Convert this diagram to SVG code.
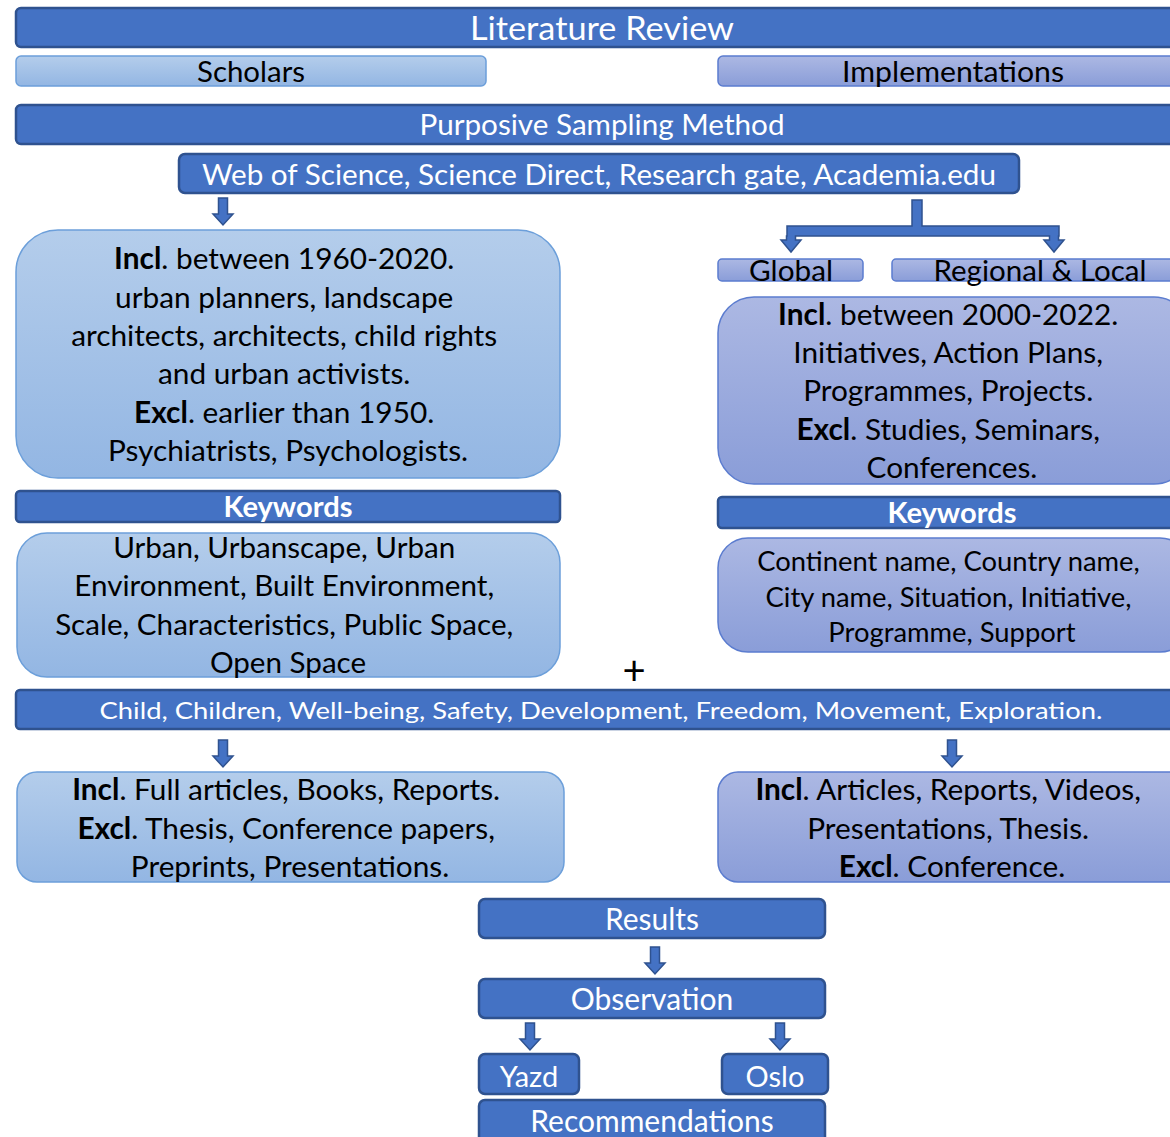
<svg xmlns="http://www.w3.org/2000/svg" width="1170" height="1137" viewBox="0 0 1170 1137">
<defs>
<linearGradient id="gBlue" x1="0" y1="0" x2="0" y2="1"><stop offset="0" stop-color="#B4CDEB"/><stop offset="1" stop-color="#93B6E3"/></linearGradient>
<linearGradient id="gLav" x1="0" y1="0" x2="0" y2="1"><stop offset="0" stop-color="#ACB8E3"/><stop offset="1" stop-color="#8A9DD8"/></linearGradient>
<path id="dArrow" d="M-4.5,0 H4.5 V16 H10 L0,27 L-10,16 H-4.5 Z"/>
</defs>
<style>
.dark{fill:#4472C4;stroke:#2F528F;stroke-width:2.5}
.blue{fill:url(#gBlue);stroke:#6C9FDA;stroke-width:1.5}
.lav{fill:url(#gLav);stroke:#5B7CCF;stroke-width:1.5}
.arr{fill:#4472C4;stroke:#2F528F;stroke-width:1.5}
text{font-family:Lato,"Open Sans","Liberation Sans",sans-serif;text-anchor:middle}
.w{fill:#FFFFFF}
.k{fill:#000000}
.b{font-weight:bold}
</style>
<rect width="1170" height="1137" fill="#FFFFFF"/>

<g id="literature-review"><rect class="dark" x="16" y="8" width="1172" height="39" rx="5"/><text class="w" x="602" y="40" font-size="32" textLength="264" lengthAdjust="spacingAndGlyphs">Literature Review</text></g>
<g id="scholars"><rect class="blue" x="16" y="56" width="470" height="30" rx="5"/><text class="k" x="251" y="82" font-size="28" textLength="108" lengthAdjust="spacingAndGlyphs">Scholars</text></g>
<g id="implementations"><rect class="lav" x="718" y="56" width="472" height="30" rx="5"/><text class="k" x="953" y="82" font-size="28" textLength="222" lengthAdjust="spacingAndGlyphs">Implementations</text></g>
<g id="purposive"><rect class="dark" x="16" y="105" width="1172" height="39" rx="5"/><text class="w" x="602" y="135" font-size="28" textLength="365" lengthAdjust="spacingAndGlyphs">Purposive Sampling Method</text></g>
<g id="databases"><rect class="dark" x="179" y="154" width="840" height="39" rx="6"/><text class="w" x="599" y="185" font-size="28" textLength="794" lengthAdjust="spacingAndGlyphs">Web of Science, Science Direct, Research gate, Academia.edu</text></g>

<g id="global"><rect class="lav" x="718" y="259" width="145" height="22" rx="4"/><text class="k" x="791" y="281" font-size="28" textLength="84" lengthAdjust="spacingAndGlyphs">Global</text></g>
<g id="regional"><rect class="lav" x="892" y="259" width="298" height="22" rx="4"/><text class="k" x="1040" y="281" font-size="28" textLength="213" lengthAdjust="spacingAndGlyphs">Regional &amp; Local</text></g>

<g id="scholars-criteria"><rect class="blue" x="16" y="230" width="544" height="248" rx="42"/>
<text class="k" font-size="29.8">
<tspan x="288" y="269"><tspan class="b">Incl</tspan>. between 1960-2020.</tspan>
<tspan x="288" y="308">urban planners, landscape</tspan>
<tspan x="288" y="346">architects, architects, child rights</tspan>
<tspan x="288" y="384">and urban activists.</tspan>
<tspan x="288" y="423"><tspan class="b">Excl</tspan>. earlier than 1950.</tspan>
<tspan x="288" y="461">Psychiatrists, Psychologists.</tspan>
</text></g>

<g id="impl-criteria"><rect class="lav" x="718" y="297" width="472" height="187" rx="36"/>
<text class="k" font-size="29.8">
<tspan x="952" y="325"><tspan class="b">Incl</tspan>. between 2000-2022.</tspan>
<tspan x="952" y="363">Initiatives, Action Plans,</tspan>
<tspan x="952" y="401">Programmes, Projects.</tspan>
<tspan x="952" y="440"><tspan class="b">Excl</tspan>. Studies, Seminars,</tspan>
<tspan x="952" y="478">Conferences.</tspan>
</text></g>

<g id="keywords-left"><rect class="dark" x="16" y="491" width="544" height="31" rx="4"/><text class="w b" x="288" y="517" font-size="28" textLength="129" lengthAdjust="spacingAndGlyphs">Keywords</text></g>
<g id="keywords-right"><rect class="dark" x="718" y="497" width="472" height="31" rx="4"/><text class="w b" x="952" y="523" font-size="28" textLength="129" lengthAdjust="spacingAndGlyphs">Keywords</text></g>

<g id="keywords-left-list"><rect class="blue" x="17" y="533" width="543" height="144" rx="30"/>
<text class="k" font-size="29.6">
<tspan x="288" y="558">Urban, Urbanscape, Urban</tspan>
<tspan x="288" y="596">Environment, Built Environment,</tspan>
<tspan x="288" y="635">Scale, Characteristics, Public Space,</tspan>
<tspan x="288" y="673">Open Space</tspan>
</text></g>

<g id="keywords-right-list"><rect class="lav" x="718" y="538" width="472" height="114" rx="30"/>
<text class="k" font-size="27.4">
<tspan x="952" y="571">Continent name, Country name,</tspan>
<tspan x="952" y="607">City name, Situation, Initiative,</tspan>
<tspan x="952" y="642">Programme, Support</tspan>
</text></g>

<g id="plus"><text class="k" x="634" y="685" font-size="40" font-family="DejaVu Sans">+</text></g>

<g id="common-keywords"><rect class="dark" x="16" y="690" width="1172" height="39" rx="4"/><text class="w" x="601" y="719" font-size="24" textLength="1003" lengthAdjust="spacingAndGlyphs">Child, Children, Well-being, Safety, Development, Freedom, Movement, Exploration.</text></g>

<g id="scholars-types"><rect class="blue" x="17" y="772" width="547" height="110" rx="20"/>
<text class="k" font-size="29.8">
<tspan x="290" y="800"><tspan class="b">Incl</tspan>. Full articles, Books, Reports.</tspan>
<tspan x="290" y="839"><tspan class="b">Excl</tspan>. Thesis, Conference papers,</tspan>
<tspan x="290" y="877">Preprints, Presentations.</tspan>
</text></g>

<g id="impl-types"><rect class="lav" x="718" y="772" width="472" height="110" rx="20"/>
<text class="k" font-size="29.8">
<tspan x="952" y="800"><tspan class="b">Incl</tspan>. Articles, Reports, Videos,</tspan>
<tspan x="952" y="839">Presentations, Thesis.</tspan>
<tspan x="952" y="877"><tspan class="b">Excl</tspan>. Conference.</tspan>
</text></g>

<g id="results"><rect class="dark" x="479" y="899" width="346" height="39" rx="6"/><text class="w" x="652" y="930" font-size="30">Results</text></g>
<g id="observation"><rect class="dark" x="479" y="979" width="346" height="39" rx="6"/><text class="w" x="652" y="1010" font-size="30">Observation</text></g>
<g id="yazd"><rect class="dark" x="479" y="1054" width="100" height="40" rx="6"/><text class="w" x="529" y="1087" font-size="29">Yazd</text></g>
<g id="oslo"><rect class="dark" x="722" y="1054" width="106" height="40" rx="6"/><text class="w" x="775" y="1087" font-size="29">Oslo</text></g>
<g id="recommendations"><rect class="dark" x="479" y="1100" width="346" height="50" rx="6"/><text class="w" x="652" y="1132" font-size="30">Recommendations</text></g>

<g id="connectors">
<use href="#dArrow" class="arr" x="223" y="198"/>
<path class="arr" d="M912,200 H922 V226 H1059 V236 H1058.5 V240 H1064 L1054,252 L1044,240 H1049.5 V236 H795.5 V240 H801 L791,252 L781,240 H786.5 V236 H787 V226 H912 Z"/>
<use href="#dArrow" class="arr" x="223" y="740"/>
<use href="#dArrow" class="arr" x="952" y="740"/>
<use href="#dArrow" class="arr" x="655" y="947"/>
<use href="#dArrow" class="arr" x="530" y="1023"/>
<use href="#dArrow" class="arr" x="780" y="1023"/>
</g>
</svg>
